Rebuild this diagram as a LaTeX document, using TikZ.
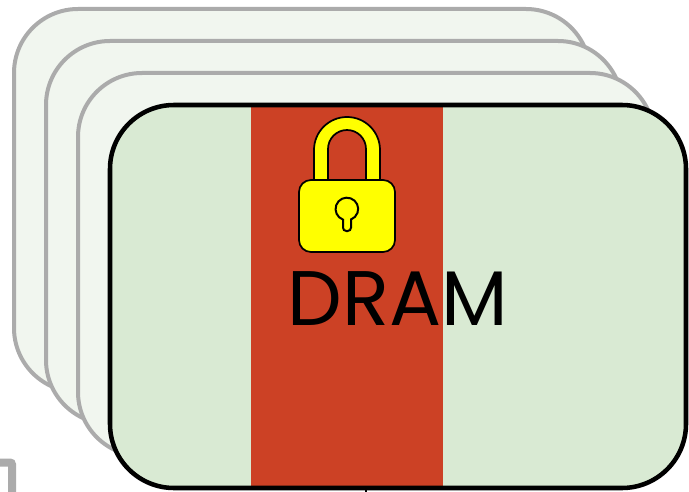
\documentclass[tikz,border=0pt]{standalone}
\usepackage{fontspec}
\setmainfont{Poppins}
\usetikzlibrary{positioning}
\definecolor{dramgreen}{RGB}{217, 234, 211}
\definecolor{dramlight}{RGB}{241, 246, 239}
\definecolor{dramgray}{RGB}{171, 171, 171}
\definecolor{dramred}{RGB}{204, 65, 37}
\definecolor{lockyellow}{RGB}{255, 255, 0}

\begin{document}
\begin{tikzpicture}[x=0.75pt, y=-0.75pt,
        bank/.style={draw=dramgray, fill=dramlight, line width=3pt, rounded corners=48pt, minimum width=432pt, minimum height=287.25pt, inner sep=0pt, outer sep=0pt, anchor=north west},
        front/.style={bank, draw=none, fill=dramgreen},
        frontline/.style={bank, draw=black, fill=none, line width=3.4pt},
        band/.style={fill=dramred, minimum width=144pt, minimum height=287.25pt, inner sep=0pt, outer sep=0pt, anchor=north west},
        lockpart/.style={draw=black, fill=lockyellow, line width=1.3pt},
        label/.style={font=\fontsize{58pt}{60pt}\selectfont, inner sep=0pt}
      ]
        \useasboundingbox (0,0) rectangle (689,492);
        % Cut-off pieces at the lower edge
        \draw[dramgray, line width=6pt, rounded corners=1.5pt] (-6,462.5) -- (12,462.5) -- (12,498);
        \draw[black, line width=1.5pt] (366,486) -- (366,496);
        % Banks behind
        \node[bank] (b3) at (14,9) {};
        \node[bank] (b2) at (46,41) {};
        \node[bank] (b1) at (78,73) {};
        % Front bank
        \node[front] (b0) at (110,105) {};
        \node[band] (row) at (251,105) {};
        \node[frontline] (b0line) at (110,105) {};
        % Lock
        \draw[lockpart] (314,181) -- (314,150) arc[start angle=180, end angle=360, radius=33] -- (380,181) -- (366,181) -- (366,149) arc[start angle=360, end angle=180, radius=19] -- (328,181) -- cycle;
        \node[lockpart, rounded corners=9pt, minimum width=72pt, minimum height=54pt, inner sep=0pt, outer sep=0pt] (body) at (347,216) {};
        \draw[lockpart, fill=none, line width=1.5pt, rounded corners=2.5pt] (343,219) -- (343,231) -- (351,231) -- (351,219);
        \draw[lockpart, fill=none, line width=1.5pt] (343,219.6) arc[start angle=110, end angle=430, radius=11.3];
        % Text
        \node[label] (dram) at (398,299) {DRAM};
      \end{tikzpicture}
\end{document}
